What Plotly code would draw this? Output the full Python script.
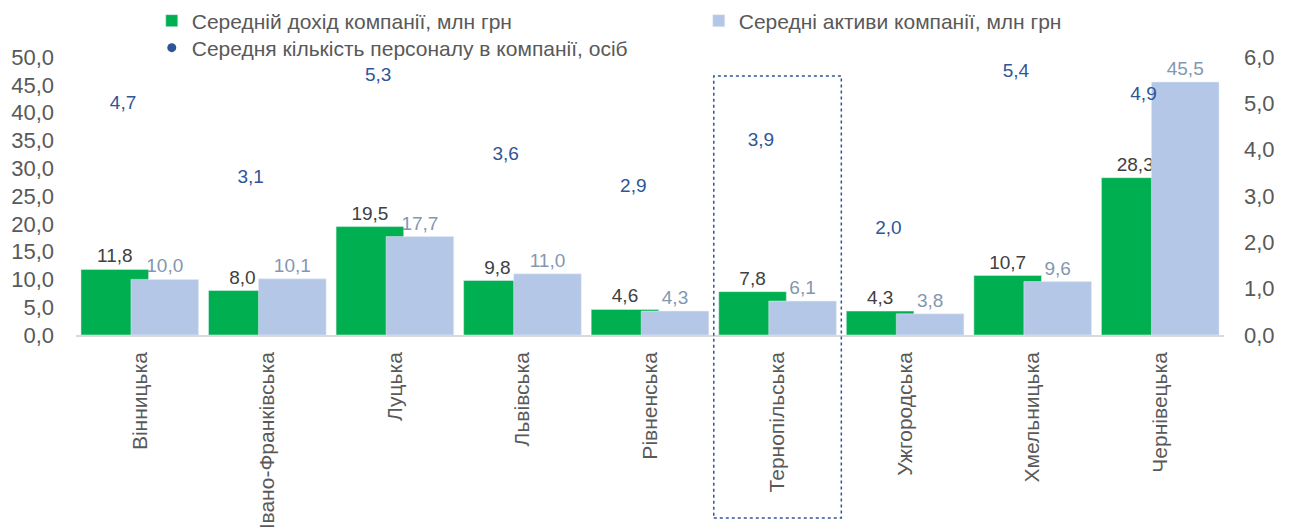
import plotly.graph_objects as go

regions = ["Вінницька", "Івано-Франківська", "Луцька", "Львівська", "Рівненська",
           "Тернопільська", "Ужгородська", "Хмельницька", "Чернівецька"]
income = [11.8, 8.0, 19.5, 9.8, 4.6, 7.8, 4.3, 10.7, 28.3]
assets = [10.0, 10.1, 17.7, 11.0, 4.3, 6.1, 3.8, 9.6, 45.5]
staff = [4.7, 3.1, 5.3, 3.6, 2.9, 3.9, 2.0, 5.4, 4.9]

name_income = "Середній дохід компанії, млн грн"
name_assets = "Середні активи компанії, млн грн"
name_staff = "Середня кількість персоналу в компанії, осіб"

font = "Arial, Liberation Sans, sans-serif"
green = "#00B050"
light_blue = "#B4C7E7"
dark_blue = "#2F5597"
grey = "#595959"

# page body has an 8px margin, so the figure is 8px smaller than the window
W, H = 1283, 519

fig = go.Figure()
fig.add_trace(go.Bar(
    x=regions, y=income, name=name_income, marker_color=green,
    width=0.53, offset=-0.461,
    texttemplate="%{y:.1f}", textposition="outside", cliponaxis=False,
    textfont=dict(size=19, color="#404040", family=font),
    legend="legend",
))
fig.add_trace(go.Bar(
    x=regions, y=assets, name=name_assets, marker_color=light_blue,
    width=0.53, offset=-0.069,
    texttemplate="%{y:.1f}", textposition="outside", cliponaxis=False,
    textfont=dict(size=19, color="#8497B0", family=font),
    legend="legend",
))
# staff labels only (no visible markers), on the right axis
fig.add_trace(go.Scatter(
    x=regions, y=staff, yaxis="y2", mode="markers+text",
    marker=dict(size=4, opacity=0), texttemplate="%{y:.1f}",
    textposition="top left", cliponaxis=False,
    textfont=dict(size=19, color=dark_blue, family=font),
    showlegend=False, hoverinfo="skip",
))
# legend entry for the staff series
fig.add_trace(go.Scatter(
    x=[None], y=[None], yaxis="y2", mode="markers", name=name_staff,
    marker=dict(size=9, color=dark_blue), legend="legend2",
))

# dotted frame around Тернопільська
fig.add_shape(type="rect", xref="x", yref="paper", x0=4.5, x1=5.5, y0=-0.658, y1=0.932,
              line=dict(color=dark_blue, width=1.5, dash="dot"))

fig.update_layout(
    width=W, height=H,
    margin=dict(l=68, r=67, t=49, b=192, autoexpand=False),
    paper_bgcolor="white", plot_bgcolor="white",
    barmode="overlay",
    separators=", ",
    font=dict(family=font, color=grey),
    showlegend=True,
    legend=dict(orientation="h", x=0.066, y=1 - 13 / H, xref="paper", yref="container",
                xanchor="left", yanchor="middle", bgcolor="rgba(0,0,0,0)",
                entrywidth=502, font=dict(size=21, color=grey), traceorder="normal"),
    legend2=dict(orientation="h", x=0.066, y=1 - 40 / H, xref="paper", yref="container",
                 xanchor="left", yanchor="middle", bgcolor="rgba(0,0,0,0)",
                 font=dict(size=21, color=grey)),
    xaxis=dict(type="category", showgrid=False, showline=True, linecolor="#D9D9D9", linewidth=1.5,
               tickangle=-90, tickfont=dict(size=21, color=grey), ticks="", ticklabelstandoff=7,
               range=[-0.5, 8.5]),
    yaxis=dict(range=[0, 50], tickvals=list(range(0, 51, 5)), tickformat=".1f", showgrid=False,
               zeroline=False, tickfont=dict(size=22, color=grey), ticklabelstandoff=21),
    yaxis2=dict(range=[0, 6], tickvals=list(range(0, 7)), tickformat=".1f", overlaying="y", side="right",
                showgrid=False, zeroline=False, tickfont=dict(size=22, color=grey), ticklabelstandoff=19),
)

fig.write_html("out.html")
